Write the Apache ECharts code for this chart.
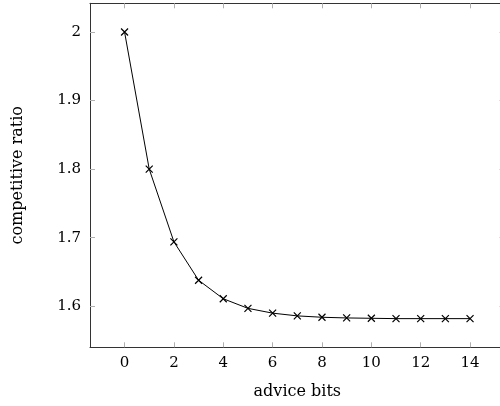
<!DOCTYPE html>
<html>
<head>
<meta charset="utf-8">
<script src="https://cdn.jsdelivr.net/npm/echarts@6/dist/echarts.min.js"></script>
<style>
  html, body { margin: 0; padding: 0; background: #fff; }
  #chart { width: 500px; height: 406px; }
</style>
</head>
<body>
<div id="chart"></div>
<script>
// Competitive ratio as a function of the number of advice bits
const adviceBits = [0, 1, 2, 3, 4, 5, 6, 7, 8, 9, 10, 11, 12, 13, 14];
const competitiveRatio = [2.0, 1.8, 1.694, 1.638, 1.611, 1.597, 1.590, 1.586, 1.584, 1.583, 1.5825, 1.582, 1.582, 1.582, 1.582];
const xTicks = [0, 2, 4, 6, 8, 10, 12, 14];
const yTicks = [1.6, 1.7, 1.8, 1.9, 2];

const FONT = 'DejaVu Serif';
const TICK_COLOR = '#b0b0b0';
const AXIS_COLOR = '#333';

const points = adviceBits.map((b, i) => [b, competitiveRatio[i]]);

const crossSymbol = 'path://M0,0L10,10M10,0L0,10';

function xAxisDef(pos, showLabels) {
  return {
    type: 'value', position: pos,
    min: -1.4, max: 15.4, interval: 2,
    axisLine: { show: true, onZero: false, lineStyle: { color: AXIS_COLOR, width: 1 } },
    axisTick: { show: true, inside: true, length: 5, customValues: xTicks, lineStyle: { color: TICK_COLOR, width: 1 } },
    axisLabel: { show: showLabels, customValues: xTicks, color: '#000', fontFamily: FONT, fontSize: 15, margin: 8 },
    splitLine: { show: false }
  };
}

function yAxisDef(pos, showLabels) {
  return {
    type: 'value', position: pos,
    min: 1.5402, max: 2.0418,
    axisLine: { show: pos === 'left', onZero: false, lineStyle: { color: AXIS_COLOR, width: 1 } },
    axisTick: { show: true, inside: true, length: 5, customValues: yTicks, lineStyle: { color: TICK_COLOR, width: 1 } },
    axisLabel: {
      show: showLabels, customValues: yTicks, color: '#000', fontFamily: FONT, fontSize: 15, margin: 9,
      formatter: v => String(Math.round(v * 10) / 10)
    },
    splitLine: { show: false }
  };
}

const chart = echarts.init(document.getElementById('chart'), null, { renderer: 'canvas' });
chart.setOption({
  animation: false,
  backgroundColor: '#fff',
  grid: { left: 90, right: -4.6, top: 3.3, bottom: 58.7, containLabel: false, outerBoundsMode: 'none' },
  xAxis: [
    Object.assign(xAxisDef('bottom', true), {
      name: 'advice bits', nameLocation: 'middle', nameGap: 37,
      nameTextStyle: { color: '#000', fontFamily: FONT, fontSize: 16 }
    }),
    xAxisDef('top', false)
  ],
  yAxis: [
    Object.assign(yAxisDef('left', true), {
      name: 'competitive ratio', nameLocation: 'middle', nameGap: 64, nameRotate: 90,
      nameTextStyle: { color: '#000', fontFamily: FONT, fontSize: 16 }
    }),
    yAxisDef('right', false)
  ],
  series: [{
    type: 'line',
    data: points,
    xAxisIndex: 0, yAxisIndex: 0,
    symbol: crossSymbol,
    symbolSize: 7,
    showAllSymbol: true,
    lineStyle: { color: '#000', width: 1 },
    itemStyle: { color: 'rgba(0,0,0,0)', borderColor: '#000', borderWidth: 1.2 },
    smooth: false
  }]
});
</script>
</body>
</html>
